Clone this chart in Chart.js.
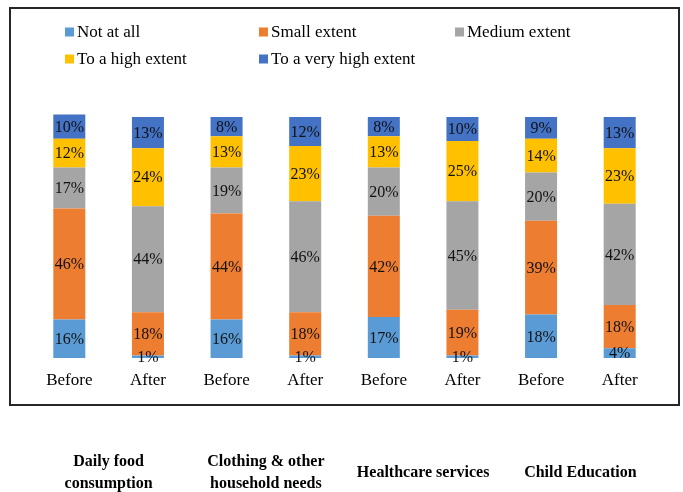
<!DOCTYPE html>
<html>
<head>
<meta charset="utf-8">
<script src="https://cdn.jsdelivr.net/npm/chart.js@4.4.1/dist/chart.umd.min.js"></script>
<style>
    html, body { margin: 0; padding: 0; background: #fff; }
    #wrap { width: 683px; height: 492px; }
</style>
</head>
<body>
<div id="wrap"><canvas id="extentChart" width="683" height="492"></canvas></div>
<script>
// Bars: before / after for each spending area
const periods = ['Before', 'After', 'Before', 'After', 'Before', 'After', 'Before', 'After'];
const groups = [['Daily food', 'consumption'], ['Clothing & other', 'household needs'], 'Healthcare services', 'Child Education'];

const seriesNames = ['Not at all', 'Small extent', 'Medium extent', 'To a high extent', 'To a very high extent'];
const notAtAll = [16, 1, 16, 1, 17, 1, 18, 4];
const smallExtent = [46, 18, 44, 18, 42, 19, 39, 18];
const mediumExtent = [17, 44, 19, 46, 20, 45, 20, 42];
const highExtent = [12, 24, 13, 23, 13, 25, 14, 23];
const veryHighExtent = [10, 13, 8, 12, 8, 10, 9, 13];

const seriesColors = ['#5B9BD5', '#ED7D31', '#A5A5A5', '#FFC000', '#4472C4'];

const SERIF = '"Liberation Serif", "Times New Roman", serif';

// white page + the thin frame around the plot
const framePlugin = {
    id: 'framePlugin',
    beforeDraw: function(chart) {
        const ctx = chart.ctx;
        ctx.save();
        ctx.fillStyle = '#fff';
        ctx.fillRect(0, 0, chart.width, chart.height);
        ctx.strokeStyle = '#262626';
        ctx.lineWidth = 2;
        ctx.strokeRect(10, 8, 669, 397);
        ctx.restore();
    }
};

// legend laid out as a 3-column grid
const gridLegendPlugin = {
    id: 'gridLegendPlugin',
    afterDraw: function(chart) {
        const ctx = chart.ctx;
        const cols = [65, 259, 455];
        const rows = [32, 59];
        ctx.save();
        ctx.font = '17px ' + SERIF;
        ctx.textBaseline = 'middle';
        ctx.textAlign = 'left';
        chart.data.datasets.forEach((ds, i) => {
            const x = cols[i % 3];
            const y = rows[Math.floor(i / 3)];
            ctx.fillStyle = ds.backgroundColor;
            ctx.fillRect(x, y - 4.5, 9, 9);
            ctx.fillStyle = '#000';
            ctx.fillText(ds.label, x + 12, y + 0.5);
        });
        ctx.restore();
    }
};

// percentage inside each segment
const segmentLabelPlugin = {
    id: 'segmentLabelPlugin',
    afterDatasetsDraw: function(chart) {
        const ctx = chart.ctx;
        ctx.save();
        ctx.font = '16px ' + SERIF;
        ctx.fillStyle = '#111';
        ctx.textAlign = 'center';
        ctx.textBaseline = 'middle';
        chart.data.datasets.forEach((ds, i) => {
            const meta = chart.getDatasetMeta(i);
            meta.data.forEach((bar, j) => {
                const { x, y, base } = bar.getProps(['x', 'y', 'base'], true);
                ctx.fillText(ds.data[j] + '%', x, (y + base) / 2 + 1);
            });
        });
        ctx.restore();
    }
};

const seriesData = [notAtAll, smallExtent, mediumExtent, highExtent, veryHighExtent];

const ctx = document.getElementById('extentChart').getContext('2d');
new Chart(ctx, {
    type: 'bar',
    data: {
        labels: periods,
        datasets: seriesNames.map((name, i) => ({
            label: name,
            data: seriesData[i],
            backgroundColor: seriesColors[i],
            borderWidth: 0,
            barPercentage: 0.407,
            categoryPercentage: 1.0,
            clip: false
        }))
    },
    options: {
        responsive: false,
        animation: false,
        devicePixelRatio: 1,
        // the group row sits partly below the canvas edge (its padding
        // is counted twice), so pull the bottom in a bit
        layout: {
            padding: { top: 117, left: 30, right: 24, bottom: -24 }
        },
        scales: {
            x: {
                stacked: true,
                weight: 0,
                grid: { display: false, drawTicks: false },
                border: { display: false },
                ticks: {
                    color: '#000',
                    font: { family: SERIF, size: 17, lineHeight: 1 },
                    padding: 14.5,
                    maxRotation: 0,
                    autoSkip: false
                },
                // leave a gap under Before/After, below the frame
                afterFit: function(scale) {
                    scale.height = 94;
                }
            },
            x2: {
                type: 'category',
                position: 'bottom',
                labels: groups,
                offset: true,
                weight: 1,
                grid: { display: false, drawTicks: false },
                border: { display: false },
                ticks: {
                    color: '#000',
                    font: { family: SERIF, size: 16, weight: 'bold', lineHeight: '22px' },
                    padding: 10,
                    crossAlign: 'center',
                    maxRotation: 0,
                    autoSkip: false
                }
            },
            y: {
                stacked: true,
                display: false,
                min: 0,
                max: 100
            }
        },
        plugins: {
            legend: { display: false },
            tooltip: { enabled: false }
        }
    },
    plugins: [framePlugin, gridLegendPlugin, segmentLabelPlugin]
});
</script>
</body>
</html>
